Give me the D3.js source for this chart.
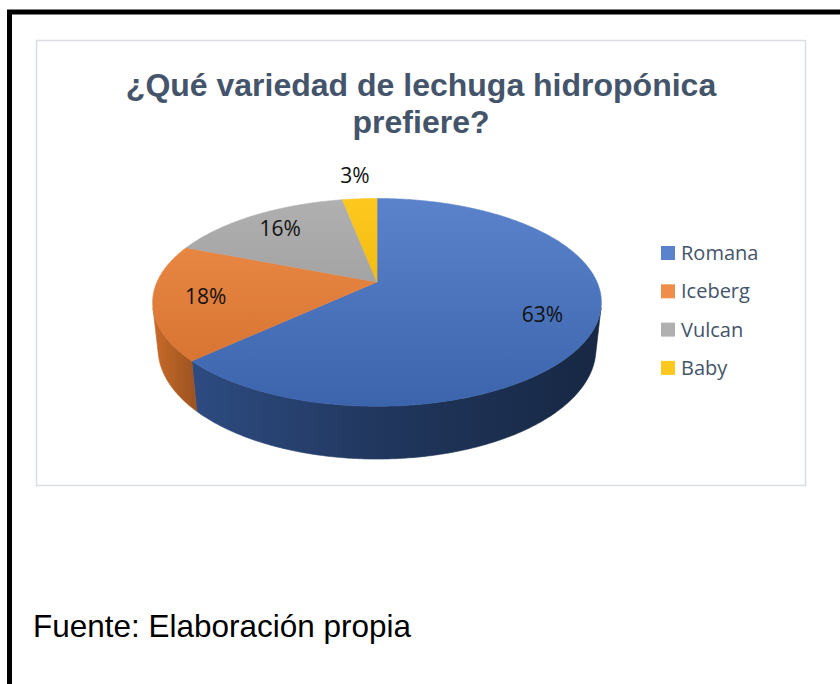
<!DOCTYPE html>
<html>
<head>
<meta charset="utf-8">
<script src="https://cdn.jsdelivr.net/npm/d3@7"></script>
<style>
  html, body { margin: 0; padding: 0; background: #fff; }
  svg { display: block; }
</style>
</head>
<body>
<svg id="chart" width="840" height="684"></svg>
<script>
// Chart data
const categories = ['Romana', 'Iceberg', 'Vulcan', 'Baby'];
const values = [63, 18, 16, 3];
const colors = ['#4472c4', '#ed7d31', '#a5a5a5', '#ffc000'];
const titleLines = ['¿Qué variedad de lechuga hidropónica', 'prefiere?'];
const sourceNote = 'Fuente: Elaboración propia';

const svg = d3.select('#chart');
const defs = svg.append('defs');

// Page frame: thick black line on top and left
svg.append('path')
    .attr('d', 'M9.5,684 V12 H840')
    .attr('fill', 'none')
    .attr('stroke', '#000')
    .attr('stroke-width', 5);

// Chart area border
svg.append('rect')
    .attr('x', 36.5).attr('y', 40.5)
    .attr('width', 769).attr('height', 445)
    .attr('fill', '#fff')
    .attr('stroke', '#dadde2')
    .attr('stroke-width', 1.5);

// Title
const title = svg.append('text')
    .attr('text-anchor', 'middle')
    .attr('font-family', 'Liberation Sans, Arial, sans-serif')
    .attr('font-weight', 'bold')
    .attr('font-size', 32)
    .attr('fill', '#44546a');
titleLines.forEach((line, i) => {
    title.append('tspan')
        .attr('x', 421)
        .attr('y', 96 + i * 37)
        .text(line);
});

// --- 3D pie projection (Excel style perspective) ---
const cx = 377, cy = 282;     // screen position of pie apex
const R = 0.22, D = 1;        // radius relative to camera distance
const f = 1000;               // focal length in px
const phi = 27 * Math.PI / 180;
const depth = 0.0524;         // thickness in world units

function project(theta, r, yy) {
    const x = r * R * Math.sin(theta);
    const z = r * R * Math.cos(theta);
    const v = z * Math.sin(phi) + yy * Math.cos(phi);
    const w = D + z * Math.cos(phi) - yy * Math.sin(phi);
    return [cx + f * x / w, cy - f * v / w];
}

const pie = d3.pie().sort(null).value(d => d)(values);

function arcPoints(a0, a1, r, yy) {
    const n = Math.max(2, Math.ceil((a1 - a0) / 0.01));
    return d3.range(n + 1).map(i => project(a0 + (a1 - a0) * i / n, r, yy));
}

// visible range of outer wall (normal facing camera)
const thetaS = Math.acos(-R / (D * Math.cos(phi)));
const visStart = thetaS, visEnd = 2 * Math.PI - thetaS;

function shade(c, k) {
    const col = d3.rgb(c);
    return d3.rgb(col.r * k, col.g * k, col.b * k).toString();
}

// gradients
colors.forEach((c, i) => {
    const side = defs.append('linearGradient')
        .attr('id', 'side' + i)
        .attr('gradientUnits', 'userSpaceOnUse')
        .attr('x1', 150).attr('x2', 605).attr('y1', 0).attr('y2', 0);
    [[0, 0.86], [0.1, 0.66], [0.5, 0.48], [1, 0.34]].forEach(s => {
        side.append('stop').attr('offset', s[0]).attr('stop-color', shade(c, s[1]));
    });
    const top = defs.append('linearGradient')
        .attr('id', 'top' + i)
        .attr('gradientUnits', 'userSpaceOnUse')
        .attr('x1', 0).attr('x2', 0).attr('y1', 198).attr('y2', 407);
    top.append('stop').attr('offset', 0).attr('stop-color', d3.interpolateRgb(c, '#fff')(0.12));
    top.append('stop').attr('offset', 1).attr('stop-color', shade(c, 0.88));
});

const line = d3.line();
const pieG = svg.append('g');

// outer walls first
pie.forEach((p, i) => {
    const a0 = Math.max(p.startAngle, visStart);
    const a1 = Math.min(p.endAngle, visEnd);
    if (a1 <= a0) return;
    const topPts = arcPoints(a0, a1, 1, 0);
    const botPts = arcPoints(a0, a1, 1, -depth).reverse();
    pieG.append('path')
        .attr('d', line(topPts.concat(botPts)) + 'Z')
        .attr('fill', `url(#side${i})`)
        .attr('stroke', `url(#side${i})`)
        .attr('stroke-width', 0.6);
});

// top faces
pie.forEach((p, i) => {
    const pts = [project(0, 0, 0)].concat(arcPoints(p.startAngle, p.endAngle, 1, 0));
    pieG.append('path')
        .attr('d', line(pts) + 'Z')
        .attr('fill', `url(#top${i})`)
        .attr('stroke', `url(#top${i})`)
        .attr('stroke-width', 0.6);
});

// data labels
const total = d3.sum(values);
pie.forEach((p, i) => {
    const mid = (p.startAngle + p.endAngle) / 2;
    const share = values[i] / total;
    const pos = project(mid, share < 0.05 ? 1.35 : 0.77, 0);
    svg.append('text')
        .attr('x', pos[0])
        .attr('y', pos[1])
        .attr('dy', '0.35em')
        .attr('text-anchor', 'middle')
        .attr('font-family', 'Open Sans, sans-serif')
        .attr('font-size', 21)
        .attr('fill', '#111')
        .text(Math.round(share * 100) + '%');
});

// legend
const legend = svg.append('g').attr('transform', 'translate(661,246)');
categories.forEach((name, i) => {
    const row = legend.append('g').attr('transform', `translate(0,${i * 38.3})`);
    row.append('rect')
        .attr('width', 14).attr('height', 14)
        .attr('fill', `url(#top${i})`);
    row.append('text')
        .attr('x', 20)
        .attr('y', 14)
        .attr('font-family', 'Open Sans, sans-serif')
        .attr('font-size', 20)
        .attr('fill', '#44546a')
        .text(name);
});

// source note
svg.append('text')
    .attr('x', 33)
    .attr('y', 637)
    .attr('font-family', 'Liberation Sans, Arial, sans-serif')
    .attr('font-size', 32)
    .attr('textLength', 378)
    .attr('lengthAdjust', 'spacingAndGlyphs')
    .attr('fill', '#000')
    .text(sourceNote);
</script>
</body>
</html>
